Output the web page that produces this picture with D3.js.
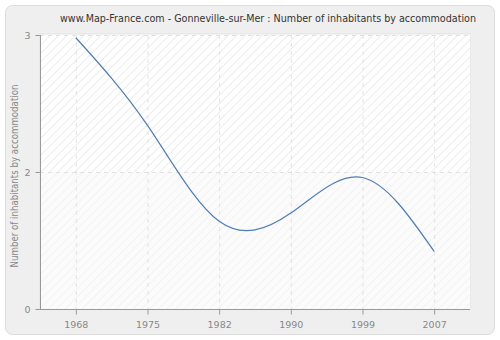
<!DOCTYPE html>
<html><head><meta charset="utf-8">
<script src="https://cdn.jsdelivr.net/npm/d3@7/dist/d3.min.js"></script>
<style>body{margin:0;background:#fff}svg{display:block;font-family:"DejaVu Sans",Verdana,sans-serif}</style>
</head><body>
<script>
const years = ["1968","1975","1982","1990","1999","2007"];
const values = [2.98, 2.34, 1.64, 1.70, 1.96, 1.42];
const yTicks = [1, 2, 3];
const yTickLabels = ["0", "2", "3"];
const title = "www.Map-France.com - Gonneville-sur-Mer : Number of inhabitants by accommodation";
const yTitle = "Number of inhabitants by accommodation";

const W = 500, H = 340;
const m = {l: 40, r: 30, t: 35, b: 31};
const svg = d3.select("body").append("svg").attr("width", W).attr("height", H);
const defs = svg.append("defs");
const pat = defs.append("pattern").attr("id","hatch").attr("patternUnits","userSpaceOnUse")
  .attr("width",6).attr("height",6).attr("patternTransform","rotate(45)");
pat.append("rect").attr("width",6).attr("height",6).attr("fill","#ffffff");
pat.append("line").attr("x1",0).attr("y1",0).attr("x2",0).attr("y2",6).attr("stroke","#ececec").attr("stroke-width",2);
const pat2 = defs.append("pattern").attr("id","hatch2").attr("patternUnits","userSpaceOnUse")
  .attr("width",6).attr("height",6).attr("patternTransform","rotate(45)");
pat2.append("rect").attr("width",6).attr("height",6).attr("fill","#fbfbfb");
pat2.append("line").attr("x1",0).attr("y1",0).attr("x2",0).attr("y2",6).attr("stroke","#f3f3f3").attr("stroke-width",2);

svg.append("rect").attr("x",5.5).attr("y",5.5).attr("width",489).attr("height",329).attr("rx",7)
  .attr("fill","#efefef").attr("stroke","#dddddd");

const x = d3.scalePoint().domain(years).range([m.l, W - m.r]).padding(0.5);
const y = d3.scaleLinear().domain([1, 3]).range([H - m.b, m.t]);

svg.append("rect").attr("x",m.l).attr("y",m.t-1).attr("width",W-m.r-m.l).attr("height",H-m.b-m.t+1)
  .attr("fill","#ffffff").attr("stroke","#e4e4e4");
svg.append("rect").attr("x",m.l).attr("y",y(3)).attr("width",W-m.r-m.l).attr("height",y(2)-y(3))
  .attr("fill","url(#hatch)");
svg.append("rect").attr("x",m.l).attr("y",y(2)).attr("width",W-m.r-m.l).attr("height",y(1)-y(2))
  .attr("fill","url(#hatch2)");

// grid
const g = svg.append("g");
g.selectAll(".vg").data(years).enter().append("line")
  .attr("x1",d=>x(d)+0.5).attr("x2",d=>x(d)+0.5).attr("y1",m.t).attr("y2",H-m.b)
  .attr("stroke","#e2e2e2").attr("stroke-dasharray","4,4");
g.selectAll(".hg").data(yTicks.slice(1)).enter().append("line")
  .attr("x1",m.l).attr("x2",W-m.r).attr("y1",d=>Math.round(y(d))+0.5).attr("y2",d=>Math.round(y(d))+0.5)
  .attr("stroke","#e2e2e2").attr("stroke-dasharray","4,4");

// axes
const xAxis = svg.append("g").attr("transform",`translate(0,${H-m.b+0.5})`)
  .call(d3.axisBottom(x).tickSize(5).tickSizeOuter(0));
const yAxis = svg.append("g").attr("transform",`translate(${m.l+0.5},0)`)
  .call(d3.axisLeft(y).tickValues(yTicks).tickFormat((d,i)=>yTickLabels[i]).tickSize(5).tickSizeOuter(0));
[xAxis, yAxis].forEach(a=>{
  a.select(".domain").attr("stroke","#999999");
  a.selectAll(".tick line").attr("stroke","#999999");
  a.selectAll(".tick text").attr("fill","#888888").attr("font-size",9.5).attr("font-family","DejaVu Sans, Verdana, sans-serif");
});
xAxis.selectAll(".tick text").attr("y",12).attr("dy","0.71em");
yAxis.selectAll(".tick text").attr("x",-10);
xAxis.select(".domain").attr("d",`M${m.l},0H${W-m.r}`);
yAxis.select(".domain").attr("d",`M0,${m.t}V${H-m.b}`);

// line
const line = d3.line().x((d,i)=>x(years[i])).y(d=>y(d)).curve(d3.curveNatural);
svg.append("path").datum(values).attr("d",line).attr("fill","none")
  .attr("stroke","#4f7db3").attr("stroke-width",1.2);

svg.append("text").attr("x",268).attr("y",22).attr("text-anchor","middle")
  .attr("font-size",10).attr("textLength",416).attr("lengthAdjust","spacingAndGlyphs")
  .attr("fill","#333333").text(title);
svg.append("text").attr("transform",`translate(18,176) rotate(-90)`)
  .attr("text-anchor","middle").attr("font-size",10).attr("textLength",183).attr("lengthAdjust","spacingAndGlyphs")
  .attr("fill","#888888").text(yTitle);
</script>
</body></html>
